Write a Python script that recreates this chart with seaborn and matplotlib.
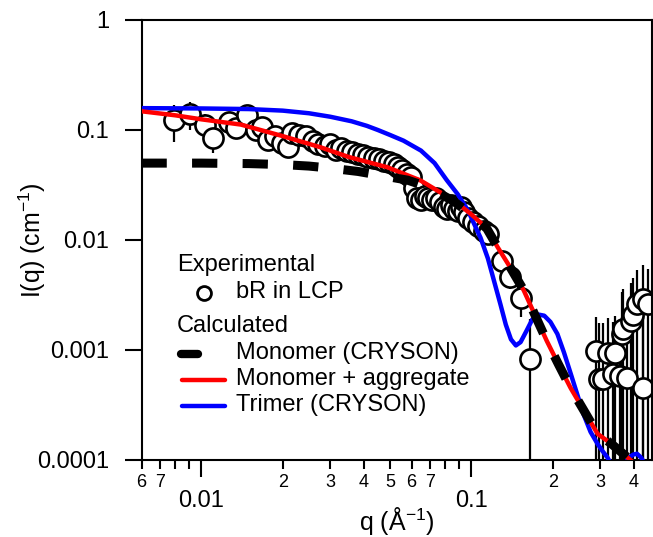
import numpy as np
import matplotlib
matplotlib.use("Agg")
import matplotlib.pyplot as plt
import seaborn as sns
from matplotlib.lines import Line2D
from matplotlib.ticker import LogLocator, FuncFormatter, NullLocator

# experimental data: bR in LCP
q_exp = [0.0079, 0.0091, 0.0103, 0.0110, 0.0126, 0.0134, 0.0148, 0.0159, 0.0168, 0.0177,
         0.0188, 0.0199, 0.0210, 0.0217, 0.0229, 0.0243, 0.0258, 0.0271, 0.0288, 0.0300,
         0.0315, 0.0330, 0.0345, 0.0362, 0.0380, 0.0398, 0.0415, 0.0435, 0.0455, 0.0475,
         0.0495, 0.0515, 0.0535, 0.0555, 0.0575, 0.0595, 0.0615, 0.0630, 0.0650, 0.0670,
         0.0690, 0.0715, 0.0740, 0.0765, 0.0790, 0.0815, 0.0840, 0.0865, 0.0890, 0.0915,
         0.0940, 0.0970, 0.1010, 0.1060, 0.1110, 0.1150, 0.1300, 0.1390, 0.1520, 0.1650,
         0.2880, 0.2960, 0.3080, 0.3190, 0.3350, 0.3400, 0.3560, 0.3600, 0.3650, 0.3760,
         0.3880, 0.3980, 0.4100, 0.4300, 0.4300, 0.4500]
I_exp = [0.123, 0.140, 0.110, 0.084, 0.118, 0.105, 0.136, 0.100, 0.106, 0.081,
         0.089, 0.076, 0.070, 0.093, 0.091, 0.088, 0.080, 0.074, 0.072, 0.075,
         0.066, 0.068, 0.064, 0.063, 0.060, 0.059, 0.057, 0.056, 0.055, 0.052,
         0.051, 0.049, 0.046, 0.043, 0.040, 0.037, 0.030, 0.024, 0.023, 0.025,
         0.024, 0.023, 0.024, 0.022, 0.020, 0.019, 0.021, 0.019, 0.0185, 0.020,
         0.018, 0.016, 0.0145, 0.0135, 0.0122, 0.0114, 0.0065, 0.0046, 0.0030, 0.00083,
         0.00098, 0.00055, 0.00055, 0.00094, 0.00061, 0.00094, 0.00058, 0.0014, 0.00156, 0.00056,
         0.00185, 0.0021, 0.00264, 0.00045, 0.0029, 0.00264]
err_exp = [0.045, 0.040, 0.030, 0.022, 0.025, 0.020, 0.022, 0.015, 0.015, 0.010,
           0.010, 0.008, 0.007, 0.008, 0.007, 0.006, 0.006, 0.005, 0.005, 0.005,
           0.004, 0.004, 0.004, 0.004, 0.003, 0.003, 0.003, 0.003, 0.003, 0.003,
           0.003, 0.003, 0.003, 0.003, 0.003, 0.003, 0.002, 0.002, 0.002, 0.002,
           0.002, 0.002, 0.002, 0.002, 0.002, 0.002, 0.002, 0.002, 0.002, 0.002,
           0.002, 0.002, 0.002, 0.002, 0.002, 0.002, 0.0012, 0.0010, 0.0010, 0.0011,
           0.0010, 0.0012, 0.0012, 0.0010, 0.0012, 0.0011, 0.0013, 0.0020, 0.0020, 0.0015,
           0.0022, 0.0024, 0.0027, 0.0020, 0.0030, 0.0028]

# calculated: monomer (CRYSON)
q_mono = [0.006, 0.010, 0.015, 0.020, 0.025, 0.030, 0.038, 0.048, 0.058, 0.0647, 0.075,
          0.086, 0.099, 0.114, 0.125, 0.140, 0.156, 0.170, 0.190, 0.210, 0.233, 0.260,
          0.293, 0.330, 0.388, 0.450]
I_mono = [0.050, 0.050, 0.0495, 0.0485, 0.047, 0.045, 0.042, 0.038, 0.035, 0.032, 0.027,
          0.0225, 0.0172, 0.0127, 0.0086, 0.0055, 0.0035, 0.0022, 0.00121, 0.00074, 0.00045, 0.000285,
          0.000173, 0.00014, 0.0001, 0.00007]

# calculated: monomer + aggregate
q_agg = [0.006, 0.008, 0.010, 0.014, 0.020, 0.0276, 0.035, 0.0489, 0.0647, 0.086, 0.099,
         0.114, 0.125, 0.140, 0.156, 0.170, 0.190, 0.210, 0.233, 0.260, 0.293, 0.330,
         0.388, 0.450]
I_agg = [0.148, 0.136, 0.125, 0.112, 0.088, 0.0697, 0.057, 0.0458, 0.0348, 0.0229, 0.0174,
         0.0128, 0.0086, 0.0055, 0.0035, 0.0022, 0.00121, 0.00074, 0.00045, 0.000285, 0.000173, 0.00014,
         0.0001, 0.00007]

# calculated: trimer (CRYSON)
q_tri = [0.006, 0.010, 0.015, 0.020, 0.025, 0.030, 0.036, 0.041, 0.045, 0.050, 0.056,
         0.065, 0.073, 0.081, 0.089, 0.097, 0.103, 0.108, 0.115, 0.122, 0.128, 0.134,
         0.140, 0.146, 0.152, 0.160, 0.168, 0.177, 0.186, 0.196, 0.208, 0.220, 0.233,
         0.246, 0.260, 0.276, 0.293, 0.306, 0.319, 0.330, 0.345, 0.360, 0.372, 0.385,
         0.397, 0.410, 0.425, 0.440, 0.470]
I_tri = [0.158, 0.157, 0.155, 0.150, 0.142, 0.132, 0.120, 0.109, 0.100, 0.090, 0.080,
         0.065, 0.050, 0.035, 0.026, 0.0186, 0.0135, 0.0105, 0.0068, 0.0040, 0.0026, 0.0017,
         0.00125, 0.0011, 0.00118, 0.0015, 0.0019, 0.0021, 0.00205, 0.0018, 0.0014, 0.00095, 0.00061,
         0.0004, 0.00026, 0.00018, 0.00014, 0.00012, 0.000105, 0.00009, 0.00008, 0.000082, 0.000095, 0.000106,
         0.000112, 0.000114, 0.000105, 0.00009, 0.00006]

W, H = 653, 537
sns.set_style("ticks")
plt.rcParams["font.family"] = ["Liberation Sans", "DejaVu Sans"]
plt.rcParams["mathtext.default"] = "regular"
plt.rcParams["text.color"] = "black"
plt.rcParams["axes.labelcolor"] = "black"
plt.rcParams["xtick.color"] = "black"
plt.rcParams["ytick.color"] = "black"


def fpos(x, y):
    # pixel -> figure fraction
    return x / W, 1 - y / H


fig = plt.figure(figsize=(W / 100, H / 100), dpi=100)
ax = fig.add_axes([141.5 / W, 1 - 460 / H, (652 - 141.5) / W, 440 / H])
ax.set_xscale("log")
ax.set_yscale("log")

q_e = np.array(q_exp)
I_e = np.array(I_exp)
e_e = np.array(err_exp)
lower = np.minimum(e_e, I_e * 0.9999)
ax.errorbar(q_e, I_e, yerr=[lower, e_e], fmt="o", ms=14.5, mfc="white", mec="black",
            mew=1.9, ecolor="black", elinewidth=1.6, capsize=0, zorder=2)

sns.lineplot(x=q_tri, y=I_tri, ax=ax, color="#0000ff", lw=3.2, sort=False, zorder=3)
sns.lineplot(x=q_agg, y=I_agg, ax=ax, color="#ff0000", lw=3.2, sort=False, zorder=4)
sns.lineplot(x=q_mono, y=I_mono, ax=ax, color="black", lw=6.5, sort=False, zorder=5,
             linestyle=(0, (2.8, 2.8)))

ax.set_xlim(0.006, 0.466)
ax.set_ylim(1e-4, 1)

# x ticks: decades big labels, 2..7 small labels
ax.xaxis.set_major_locator(LogLocator(base=10, subs=[1.0]))
ax.xaxis.set_minor_locator(LogLocator(base=10, subs=np.arange(2, 10), numticks=20))
ax.xaxis.set_major_formatter(FuncFormatter(lambda v, p: "{:g}".format(v)))


def minor_lab(v, p):
    d = int(round(v / 10 ** np.floor(np.log10(v) + 1e-9)))
    return str(d) if d <= 7 else ""


ax.xaxis.set_minor_formatter(FuncFormatter(minor_lab))
ax.yaxis.set_major_locator(LogLocator(base=10, subs=[1.0]))
ax.yaxis.set_minor_locator(NullLocator())
ax.yaxis.set_major_formatter(FuncFormatter(lambda v, p: "{:g}".format(v)))

ax.tick_params(axis="both", which="major", direction="out", length=12.2, width=1.5,
               color="black", labelsize=17)
ax.tick_params(axis="x", which="major", pad=9.5)
ax.tick_params(axis="y", which="major", pad=11)
ax.tick_params(axis="x", which="minor", direction="out", length=6.5, width=1.5,
               color="black", labelsize=13, pad=3.5)
for s in ax.spines.values():
    s.set_linewidth(1.5)
    s.set_color("black")

ax.set_xlabel("q (Å$^{-1}$)", fontsize=18, va="center")
ax.xaxis.set_label_coords(0.5, -(521 - 460) / 440)
ax.set_ylabel("I(q) (cm$^{-1}$)", fontsize=18, va="center")
ax.yaxis.set_label_coords((32 - 141.5) / 510.5, 0.5)

# legend drawn by hand
fs = 17
fig.text(*fpos(177, 265), "Experimental", fontsize=fs, va="center")
fig.add_artist(Line2D(*zip(fpos(204, 293)), transform=fig.transFigure, marker="o", ms=10,
                      mfc="white", mec="black", mew=2, ls="none"))
fig.text(*fpos(236, 292), "bR in LCP", fontsize=fs, va="center")
fig.text(*fpos(177, 326), "Calculated", fontsize=fs, va="center")
fig.add_artist(Line2D(*zip(fpos(181, 354), fpos(198, 354)), transform=fig.transFigure,
                      color="black", lw=6, solid_capstyle="round"))
fig.text(*fpos(236, 353), "Monomer (CRYSON)", fontsize=fs, va="center")
fig.add_artist(Line2D(*zip(fpos(182, 380), fpos(225, 380)), transform=fig.transFigure,
                      color="#ff0000", lw=3.2))
fig.text(*fpos(236, 379), "Monomer + aggregate", fontsize=fs, va="center")
fig.add_artist(Line2D(*zip(fpos(182, 406), fpos(225, 406)), transform=fig.transFigure,
                      color="#0000ff", lw=3.2))
fig.text(*fpos(236, 405), "Trimer (CRYSON)", fontsize=fs, va="center")

fig.savefig("out.png", dpi=100)
